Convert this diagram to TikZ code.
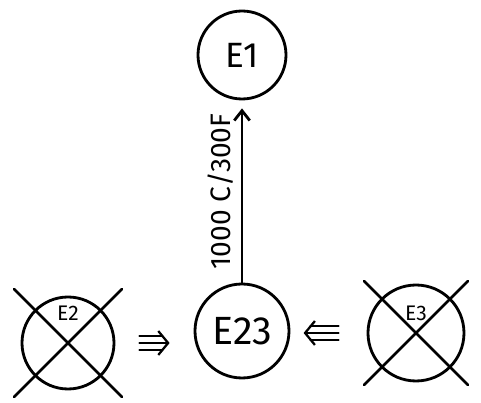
\documentclass[tikz,border=0pt]{standalone}
\usepackage{fontspec}
\setmainfont{Fira Sans}
\usetikzlibrary{arrows.meta}

\begin{document}
\begin{tikzpicture}[line width=2pt, line cap=round,
  state/.style={draw, circle, inner sep=0pt},
  gone/.style={line width=1.8pt},
  up/.style={-{Straight Barb[length=7pt,width=11pt]}},
  fat/.style={-{Straight Barb[length=7pt,width=17pt]}, line width=1.6pt},
  rail/.style={line width=1.6pt}]

\useasboundingbox (0,0) rectangle (12.025,10.075);

%--------------------
% States
%--------------------
\node[state, minimum size=2.2cm, font=\fontsize{25}{27}\selectfont] (e1) at (6.05,8.7) {E1};
\node[state, minimum size=2.35cm, font=\fontsize{28}{30}\selectfont] (e23) at (6.05,1.8) {E23};

% crossed out states
\node[state, minimum size=2.3cm,
  label={[font=\fontsize{15}{17}\selectfont, yshift=0.75cm]center:E2}] (e2) at (1.7,1.5) {};
\node[state, minimum size=2.4cm,
  label={[font=\fontsize{15}{17}\selectfont, yshift=0.5cm]center:E3}] (e3) at (10.4,1.75) {};

\draw[gone] ([shift={(-1.35,1.35)}]e2.center) -- ([shift={(1.35,-1.35)}]e2.center);
\draw[gone] ([shift={(1.35,1.35)}]e2.center) -- ([shift={(-1.35,-1.35)}]e2.center);
\draw[gone] ([shift={(-1.3,1.3)}]e3.center) -- ([shift={(1.3,-1.3)}]e3.center);
\draw[gone] ([shift={(1.3,1.3)}]e3.center) -- ([shift={(-1.3,-1.3)}]e3.center);

%--------------------
% Transition E23 -> E1
%--------------------
\draw[up, shorten >=0.2cm] (e23) -- node[midway, sloped, above=2pt, font=\fontsize{20}{22}\selectfont] {1000 C/300F} (e1);

%--------------------
% Merging arrows (triple)
%--------------------
% E2 -> E23
\draw[fat, shorten <=0.6cm, shorten >=0.6cm] (e2.east) -- (e2.east -| e23.west);
\draw[rail, shorten <=0.6cm, shorten >=0.78cm] ([yshift=5pt]e2.east) -- ([yshift=5pt]e2.east -| e23.west);
\draw[rail, shorten <=0.6cm, shorten >=0.78cm] ([yshift=-5pt]e2.east) -- ([yshift=-5pt]e2.east -| e23.west);

% E3 -> E23
\draw[fat, shorten <=0.7cm, shorten >=0.33cm] (e3.west) -- (e3.west -| e23.east);
\draw[rail, shorten <=0.7cm, shorten >=0.5cm] ([yshift=5pt]e3.west) -- ([yshift=5pt]e3.west -| e23.east);
\draw[rail, shorten <=0.7cm, shorten >=0.5cm] ([yshift=-5pt]e3.west) -- ([yshift=-5pt]e3.west -| e23.east);

\end{tikzpicture}
\end{document}
